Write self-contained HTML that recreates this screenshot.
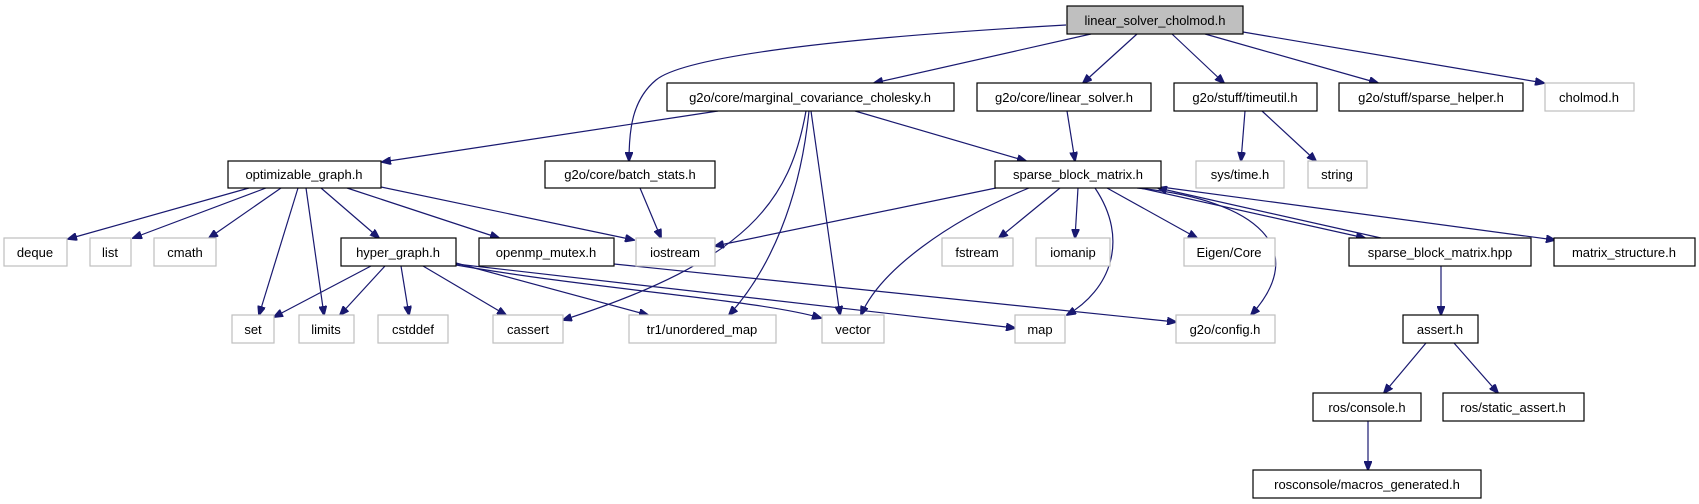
<!DOCTYPE html>
<html><head><meta charset="utf-8"><style>
html,body{margin:0;padding:0;background:#fff;}
svg{display:block;}
text{font-family:"Liberation Sans",sans-serif;font-size:13px;fill:#000;}
</style></head><body>
<svg width="1699" height="504" viewBox="0 0 1699 504" xmlns="http://www.w3.org/2000/svg">
<defs>
<marker id="a" markerWidth="10" markerHeight="8" refX="9" refY="4" orient="auto" markerUnits="userSpaceOnUse">
<path d="M0,0 L10,4 L0,8 Z" fill="#191970" stroke="#191970"/>
</marker>
</defs>
<g fill="none" stroke="#191970" stroke-width="1.2" marker-end="url(#a)">
<!-- from top -->
<path d="M1091,34 L874,83"/>
<path d="M1066,25 C800,40 680,60 656,80 C632,100 629,130 629,161"/>
<path d="M1137,34 L1083,83"/>
<path d="M1172,34 L1224,83"/>
<path d="M1205,34 L1378,83"/>
<path d="M1243,32 L1544,83"/>
<!-- marginal -->
<path d="M718,111 L382,162"/>
<path d="M855,111 L1026,161"/>
<path d="M806,111 C790,200 750,260 563,320"/>
<path d="M809,111 C800,200 770,270 729,315"/>
<path d="M811,111 L840,315"/>
<!-- linear_solver, timeutil -->
<path d="M1067,111 L1075,161"/>
<path d="M1245,111 L1241,161"/>
<path d="M1262,111 L1316,161"/>
<!-- optimizable_graph -->
<path d="M249,188 L68,239"/>
<path d="M266,188 L133,238"/>
<path d="M281,188 L209,238"/>
<path d="M298,188 L259,315"/>
<path d="M306,188 L324,315"/>
<path d="M321,188 L379,238"/>
<path d="M347,188 L499,238"/>
<path d="M381,187 L634,240"/>
<path d="M640,188 L661,238"/>
<!-- sparse_block_matrix.h -->
<path d="M996,188 L715,246"/>
<path d="M1029,188 C950,220 880,270 861,315"/>
<path d="M1060,188 L999,238"/>
<path d="M1078,188 L1075,238"/>
<path d="M1095,188 C1130,240 1110,290 1067,315"/>
<path d="M1107,188 L1197,238"/>
<path d="M1137,188 C1260,200 1310,250 1251,315"/>
<path d="M1140,188 L1365,238"/>
<path d="M1381,238 L1158,188"/>
<path d="M1161,187 L1555,240"/>
<!-- hyper_graph -->
<path d="M371,266 L274,317"/>
<path d="M385,266 L340,315"/>
<path d="M401,266 L409,315"/>
<path d="M423,266 L506,315"/>
<path d="M456,263 L648,315"/>
<path d="M456,265 C600,290 760,300 821,318"/>
<path d="M456,264 L1015,328"/>
<path d="M614,264 L1176,322"/>
<!-- hpp / assert -->
<path d="M1441,266 L1441,315"/>
<path d="M1426,343 L1384,393"/>
<path d="M1454,343 L1498,393"/>
<path d="M1368,421 L1368,470"/>
</g>
<g stroke-width="1.2">
<rect x="1067" y="6" width="176" height="28" fill="#bfbfbf" stroke="#000"/>
<g fill="#fff" stroke="#000">
<rect x="667" y="83" width="287" height="28"/>
<rect x="977" y="83" width="174" height="28"/>
<rect x="1174" y="83" width="143" height="28"/>
<rect x="1339" y="83" width="184" height="28"/>
<rect x="228" y="161" width="153" height="27"/>
<rect x="545" y="161" width="170" height="27"/>
<rect x="995" y="161" width="166" height="27"/>
<rect x="341" y="238" width="115" height="28"/>
<rect x="479" y="238" width="135" height="28"/>
<rect x="1349" y="238" width="182" height="28"/>
<rect x="1554" y="238" width="141" height="28"/>
<rect x="1403" y="315" width="75" height="28"/>
<rect x="1313" y="393" width="108" height="28"/>
<rect x="1443" y="393" width="141" height="28"/>
<rect x="1253" y="470" width="228" height="28"/>
</g>
<g fill="#fff" stroke="#bfbfbf">
<rect x="1545" y="83" width="89" height="28"/>
<rect x="1196" y="161" width="88" height="27"/>
<rect x="1308" y="161" width="59" height="27"/>
<rect x="4" y="238" width="63" height="28"/>
<rect x="90" y="238" width="41" height="28"/>
<rect x="154" y="238" width="62" height="28"/>
<rect x="636" y="238" width="79" height="28"/>
<rect x="942" y="238" width="71" height="28"/>
<rect x="1036" y="238" width="74" height="28"/>
<rect x="1184" y="238" width="91" height="28"/>
<rect x="232" y="315" width="42" height="28"/>
<rect x="299" y="315" width="55" height="28"/>
<rect x="378" y="315" width="70" height="28"/>
<rect x="493" y="315" width="70" height="28"/>
<rect x="629" y="315" width="147" height="28"/>
<rect x="822" y="315" width="62" height="28"/>
<rect x="1015" y="315" width="50" height="28"/>
<rect x="1176" y="315" width="99" height="28"/>
</g>
</g>
<g text-anchor="middle">
<text x="1155" y="25">linear_solver_cholmod.h</text>
<text x="810" y="102">g2o/core/marginal_covariance_cholesky.h</text>
<text x="1064" y="102">g2o/core/linear_solver.h</text>
<text x="1245" y="102">g2o/stuff/timeutil.h</text>
<text x="1431" y="102">g2o/stuff/sparse_helper.h</text>
<text x="1589" y="102">cholmod.h</text>
<text x="304" y="179">optimizable_graph.h</text>
<text x="630" y="179">g2o/core/batch_stats.h</text>
<text x="1078" y="179">sparse_block_matrix.h</text>
<text x="1240" y="179">sys/time.h</text>
<text x="1337" y="179">string</text>
<text x="35" y="257">deque</text>
<text x="110" y="257">list</text>
<text x="185" y="257">cmath</text>
<text x="398" y="257">hyper_graph.h</text>
<text x="546" y="257">openmp_mutex.h</text>
<text x="675" y="257">iostream</text>
<text x="977" y="257">fstream</text>
<text x="1073" y="257">iomanip</text>
<text x="1229" y="257">Eigen/Core</text>
<text x="1440" y="257">sparse_block_matrix.hpp</text>
<text x="1624" y="257">matrix_structure.h</text>
<text x="253" y="334">set</text>
<text x="326" y="334">limits</text>
<text x="413" y="334">cstddef</text>
<text x="528" y="334">cassert</text>
<text x="702" y="334">tr1/unordered_map</text>
<text x="853" y="334">vector</text>
<text x="1040" y="334">map</text>
<text x="1225" y="334">g2o/config.h</text>
<text x="1440" y="334">assert.h</text>
<text x="1367" y="412">ros/console.h</text>
<text x="1513" y="412">ros/static_assert.h</text>
<text x="1367" y="489">rosconsole/macros_generated.h</text>
</g>
</svg>
</body></html>
